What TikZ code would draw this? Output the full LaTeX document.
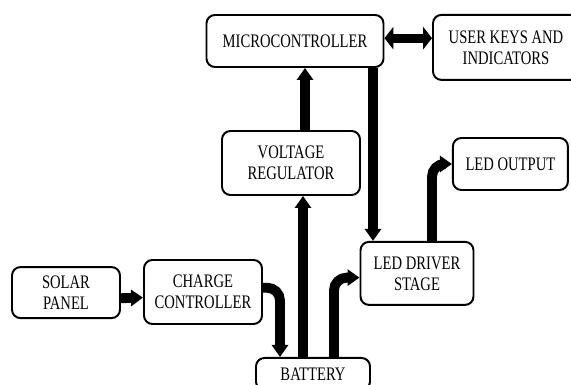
\documentclass[tikz,border=0pt]{standalone}
\usepackage{fontspec}
\setmainfont{Liberation Serif}[FakeStretch=0.765]
\usetikzlibrary{arrows.meta,calc}
\tikzset{
    block/.style={draw, line width=1.4pt, rounded corners=6pt,
                  inner sep=3pt, align=center,
                  font=\fontsize{13.6pt}{15pt}\selectfont},
    flow/.style={-{Triangle[length=0.3cm, width=0.4cm]}, line width=7pt},
    elbow/.style={flow, rounded corners=9pt},
    link/.style={{Triangle[length=0.22cm, width=0.55cm]}-{Triangle[length=0.22cm, width=0.55cm]},
                 line width=6.4pt},
}
\begin{document}
\begin{tikzpicture}

    \clip (0,0) rectangle (14.275,9.625);

    \node[block, minimum width=4.425cm, minimum height=1.3cm] (mcu) at (7.375,8.6) {MICROCONTROLLER};
    \node[block, minimum width=3.65cm, minimum height=1.625cm] (keys) at (12.65,8.44) {USER KEYS AND\\INDICATORS};
    \node[block, minimum width=3.45cm, minimum height=1.6cm] (vreg) at (7.275,5.55) {VOLTAGE\\REGULATOR};
    \node[block, minimum width=2.875cm, minimum height=1.3cm] (ledout) at (12.76,5.525) {LED OUTPUT};
    \node[block, minimum width=2.825cm, minimum height=1.575cm] (driver) at (10.425,2.79) {LED DRIVER\\STAGE};
    \node[block, minimum width=2.7cm, minimum height=1.275cm] (solar) at (1.65,2.31) {SOLAR\\PANEL};
    \node[block, minimum width=2.95cm, minimum height=1.6cm] (charger) at (5.075,2.325) {CHARGE\\CONTROLLER};
    \node[block, minimum width=2.85cm, minimum height=0.8cm, anchor=north] (battery) at (7.825,0.7) {BATTERY};

    \draw[link] ([yshift=2pt]mcu.east) -- ([yshift=2pt]mcu.east -| keys.west);
    \draw[flow] ([yshift=-4pt]solar.east) -- ([yshift=-4pt]charger.west);
    \draw[elbow] ([yshift=3pt]charger.east) -| ([xshift=-0.825cm]battery.north);
    \draw[flow] ([xshift=-0.25cm]battery.north) -- ([xshift=-0.25cm]battery.north |- vreg.south);
    \draw[flow] ([xshift=0.35cm]vreg.north) -- ([xshift=0.35cm]vreg.north |- mcu.south);
    \draw[flow] ([xshift=-1.1cm]driver.north |- mcu.south) -- ([xshift=-1.1cm]driver.north);
    \draw[elbow] ([xshift=0.525cm]battery.north) |- ([yshift=-3pt]driver.west);
    \draw[elbow] ([xshift=0.375cm]driver.north) |- (ledout.west);

\end{tikzpicture}
\end{document}
